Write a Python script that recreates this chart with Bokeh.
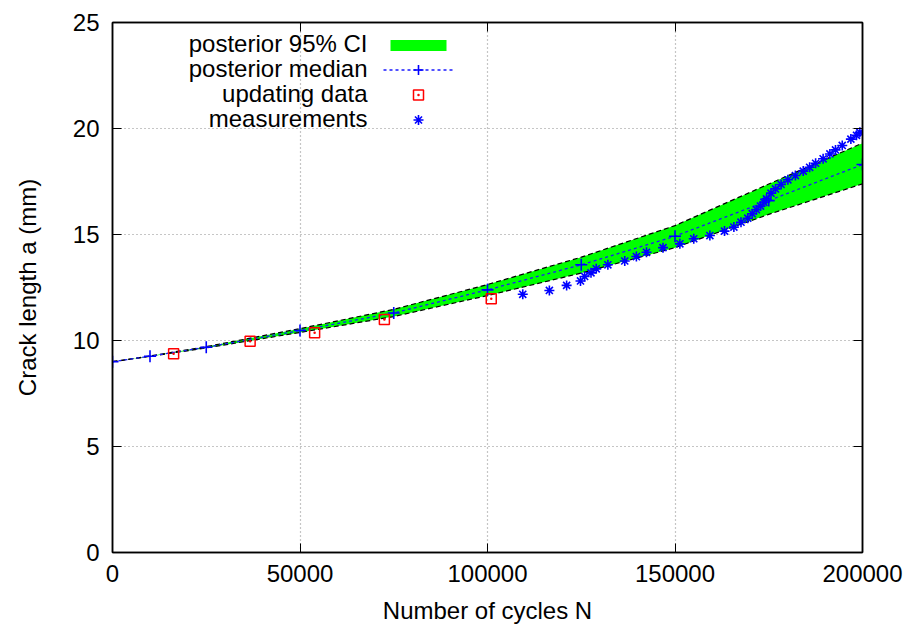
from bokeh.plotting import figure
from bokeh.models import (Legend, LegendItem, Label, LinearAxis, FixedTicker,
                          Range1d, NumeralTickFormatter)
from bokeh.embed import file_html
from bokeh.resources import INLINE

# posterior (median and 95% CI) at the marked cycle counts
cycles = [0, 10000, 25000, 50000, 75000, 100000, 125000, 150000, 175000, 200000]
median = [9.0, 9.26, 9.68, 10.47, 11.30, 12.39, 13.57, 14.92, 16.60, 18.30]
ci_upper = [9.0, 9.27, 9.71, 10.56, 11.47, 12.64, 13.93, 15.42, 17.38, 19.31]
ci_lower = [9.0, 9.25, 9.65, 10.38, 11.13, 12.12, 13.18, 14.38, 15.95, 17.39]

# updating data
update_cycles = [16300, 36700, 53900, 72500, 101000]
update_crack = [9.37, 9.97, 10.36, 10.99, 11.97]

# measurements
meas_cycles = [109400, 116500, 121100, 124800, 125900, 127600, 129000, 132100,
               136600, 139700, 142400, 146800, 151300, 155000, 159300, 163200,
               165700, 167600, 169400, 170600, 171700, 172800, 173700, 174400,
               175600, 176800, 178300, 180100, 182100, 184200, 185900, 187500,
               189500, 191300, 192800, 194600, 196900, 198400, 199300]
meas_crack = [12.18, 12.36, 12.60, 12.81, 13.02, 13.19, 13.38, 13.57,
              13.75, 13.96, 14.16, 14.38, 14.56, 14.80, 14.95, 15.16,
              15.35, 15.58, 15.77, 15.98, 16.17, 16.34, 16.52, 16.68,
              16.95, 17.15, 17.36, 17.58, 17.78, 17.99, 18.17, 18.36,
              18.57, 18.80, 18.99, 19.20, 19.50, 19.68, 19.82]

x_ticks = [0, 50000, 100000, 150000, 200000]
y_ticks = [0, 5, 10, 15, 20, 25]

legend_labels = ["posterior 95% CI", "posterior median", "updating data", "measurements"]

FONT = "Liberation Sans"
FS = "24px"

p = figure(width=910, height=628, output_backend="svg", toolbar_location=None,
           x_range=Range1d(0, 200000), y_range=Range1d(0, 25),
           min_border_left=112, min_border_right=48, min_border_top=22,
           min_border_bottom=76, background_fill_color="white",
           border_fill_color="white")
p.outline_line_color = "black"
p.outline_line_width = 1.5

xt = FixedTicker(ticks=x_ticks, minor_ticks=[])
yt = FixedTicker(ticks=y_ticks, minor_ticks=[])

for ax in p.xaxis + p.yaxis:
    ax.major_label_text_font = FONT
    ax.major_label_text_font_size = FS
    ax.axis_label_text_font = FONT
    ax.axis_label_text_font_size = FS
    ax.axis_label_text_font_style = "normal"
    ax.major_tick_in = 9
    ax.major_tick_out = 0
    ax.minor_tick_in = 0
    ax.minor_tick_out = 0
    ax.axis_line_color = "black"
    ax.axis_line_width = 1.5
    ax.major_tick_line_color = "black"
    ax.major_label_text_color = "black"
    ax.axis_label_text_color = "black"

p.xaxis.ticker = xt
p.yaxis.ticker = yt
p.xaxis.formatter = NumeralTickFormatter(format="0")
p.xaxis.axis_label = "Number of cycles N"
p.yaxis.axis_label = "Crack length a (mm)"
p.xaxis.major_label_standoff = 12
p.xaxis.axis_label_standoff = 12
p.yaxis.major_label_standoff = 13
p.yaxis.axis_label_standoff = 29

# mirrored ticks (no labels)
def mirror_axis(ticks):
    return LinearAxis(ticker=FixedTicker(ticks=ticks, minor_ticks=[]),
                      major_label_text_font_size="1px", major_label_text_color=None,
                      major_label_standoff=0,
                      major_tick_in=9, major_tick_out=0, minor_tick_in=0, minor_tick_out=0,
                      axis_line_width=1.5, axis_line_color="black")

p.add_layout(mirror_axis(x_ticks), "above")
p.add_layout(mirror_axis(y_ticks), "right")

p.xgrid.ticker = xt
p.ygrid.ticker = yt
for g in (p.xgrid, p.ygrid):
    g.grid_line_color = "#8c8c8c"
    g.grid_line_dash = "1 3"
    g.grid_line_width = 1.2

band = p.varea(x=cycles, y1=ci_lower, y2=ci_upper, fill_color="#00ff00")
p.line(cycles, ci_upper, line_color="black", line_dash="5 3", line_width=1.2)
p.line(cycles, ci_lower, line_color="black", line_dash="5 3", line_width=1.2)

med_line = p.line(cycles, median, line_color="#1a1aff", line_dash="3 3", line_width=1.3)
med_pts = p.scatter(cycles, median, marker="cross", size=12, line_color="blue",
                    line_width=1.6)

upd = p.scatter(update_cycles, update_crack, marker="square_dot", size=10,
                fill_color=None, line_color="red", line_width=1.5)

meas = p.scatter(meas_cycles, meas_crack, marker="asterisk", size=10,
                 line_color="blue", line_width=1.6)

common = dict(glyph_width=70, label_height=25, label_text_font_size="1px",
              label_text_color=None, label_standoff=0, spacing=0, padding=0,
              margin=0, border_line_color=None, background_fill_alpha=0)

legend_band = Legend(items=[LegendItem(label=" ", renderers=[band])],
                     location=(271, 495), glyph_height=14, **common)
legend_marks = Legend(items=[LegendItem(label=" ", renderers=[med_line, med_pts]),
                             LegendItem(label=" ", renderers=[upd]),
                             LegendItem(label=" ", renderers=[meas])],
                      location=(271, 420), glyph_height=25, **common)
p.add_layout(legend_band, "center")
p.add_layout(legend_marks, "center")

for i, t in enumerate(legend_labels):
    p.add_layout(Label(x=255, y=509 - 25 * i, x_units="screen", y_units="screen",
                       text=t, text_align="right", text_baseline="middle",
                       text_font=FONT, text_font_size=FS, text_color="black"))

open("out.html", "w").write(file_html(p, INLINE))
